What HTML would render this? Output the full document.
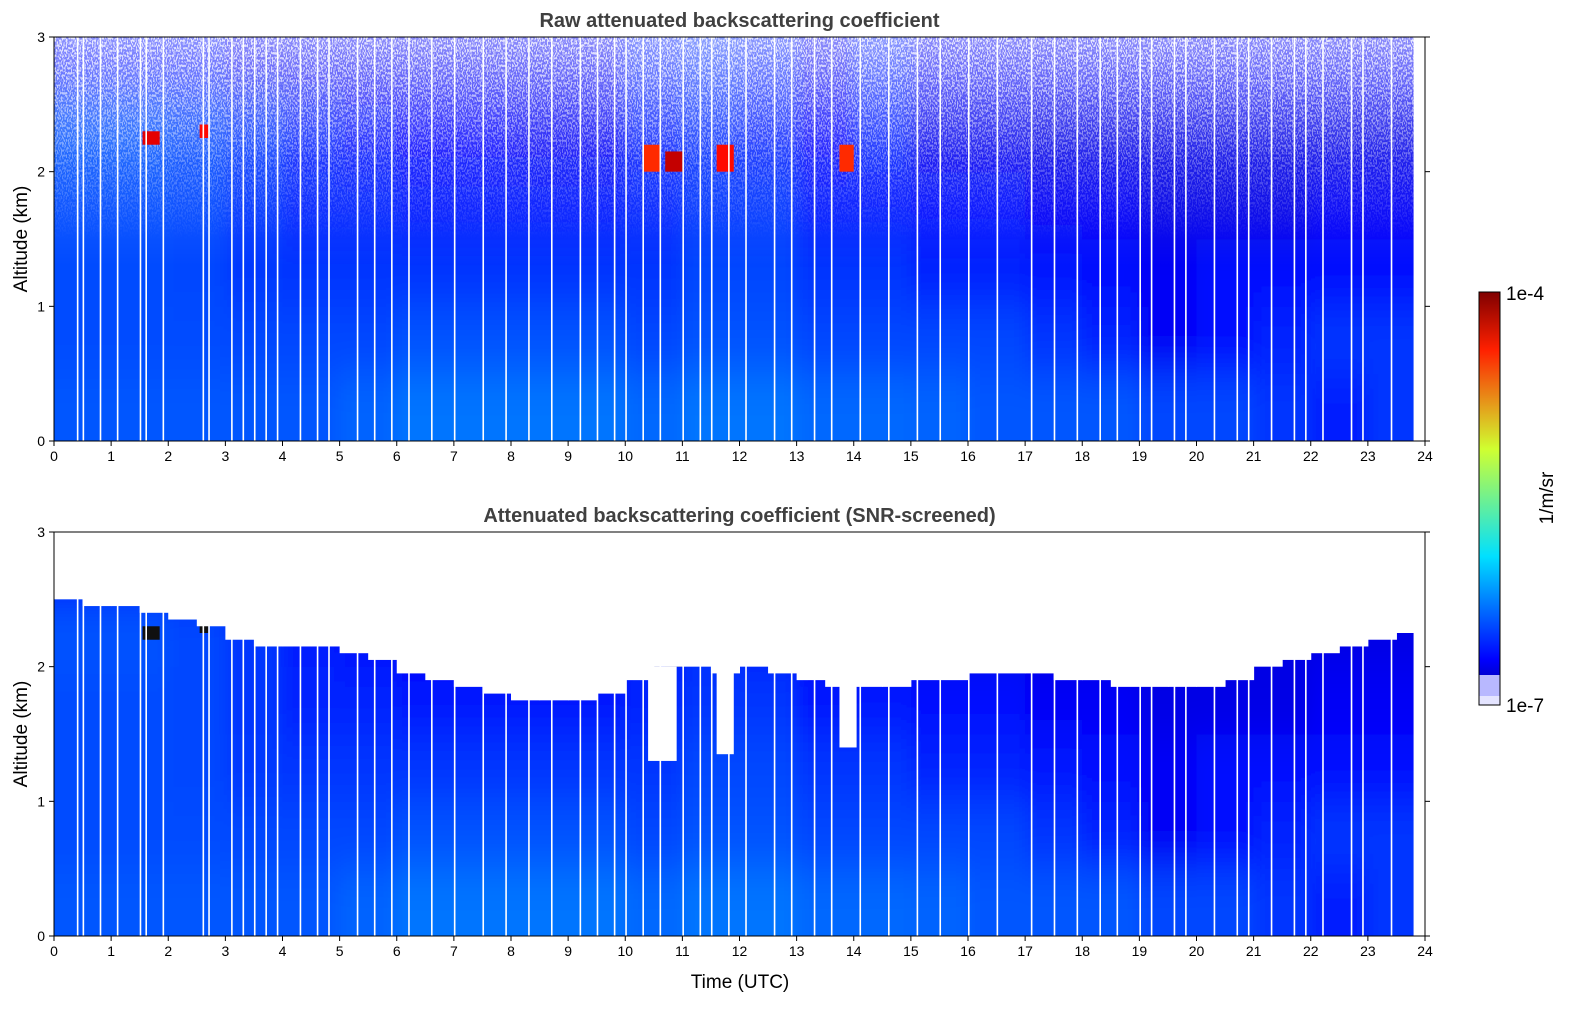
<!DOCTYPE html>
<html><head><meta charset="utf-8"><style>
html,body{margin:0;padding:0;background:#fff;}
svg text{font-family:"Liberation Sans","DejaVu Sans",sans-serif;}
</style></head><body>
<svg id="fig" width="1595" height="1020" xmlns="http://www.w3.org/2000/svg">
<defs>
<linearGradient id="jet" x1="0" y1="1" x2="0" y2="0">
<stop offset="0" stop-color="#000080"/><stop offset="0.11" stop-color="#0000ff"/>
<stop offset="0.36" stop-color="#00e0ff"/><stop offset="0.62" stop-color="#d0ff30"/>
<stop offset="0.86" stop-color="#ff2000"/><stop offset="1" stop-color="#800000"/>
</linearGradient>
<linearGradient id="haze" x1="0" y1="1" x2="0" y2="0">
<stop offset="0" stop-color="#fff" stop-opacity="0"/>
<stop offset="0.45" stop-color="#fff" stop-opacity="0.12"/>
<stop offset="1" stop-color="#fff" stop-opacity="0.55"/>
</linearGradient>
<filter id="speck" x="0" y="0" width="100%" height="100%">
<feTurbulence type="fractalNoise" baseFrequency="0.8 0.4" numOctaves="1" seed="3"/>
<feColorMatrix type="matrix" values="0 0 0 0 1  0 0 0 0 1  0 0 0 0 1  0 0 0 -12 6.2"/>
<feComposite in2="SourceGraphic" operator="in"/>
</filter>
<filter id="smooth" x="-20%" y="-40%" width="140%" height="180%">
<feGaussianBlur stdDeviation="8 22"/>
</filter>
<linearGradient id="speckmask" x1="0" y1="1" x2="0" y2="0">
<stop offset="0" stop-color="#fff" stop-opacity="0"/>
<stop offset="1" stop-color="#fff" stop-opacity="0.8"/>
</linearGradient>
</defs>
</svg>
<script>
// ---- data ----
const hours = [0,1,2,3,4,5,6,7,8,9,10,11,12,13,14,15,16,17,18,19,20,21,22,23];
const altBands = [0,0.5,1,1.5,2,2.5]; // band bottoms (km), 0.5 km thick
const band0 = [-6.37,-6.37,-6.37,-6.37,-6.37,-6.33,-6.28,-6.28,-6.28,-6.28,-6.32,-6.28,-6.28,-6.32,-6.32,-6.33,-6.37,-6.37,-6.37,-6.42,-6.42,-6.47,-6.55,-6.47];
const band1 = [-6.4,-6.4,-6.4,-6.42,-6.42,-6.42,-6.38,-6.38,-6.38,-6.38,-6.42,-6.38,-6.38,-6.42,-6.42,-6.42,-6.42,-6.47,-6.52,-6.65,-6.58,-6.52,-6.47,-6.47];
const band2 = [-6.4,-6.4,-6.42,-6.46,-6.47,-6.47,-6.47,-6.47,-6.47,-6.47,-6.47,-6.42,-6.42,-6.47,-6.47,-6.52,-6.52,-6.57,-6.6,-6.65,-6.6,-6.6,-6.6,-6.6];
const band3 = [-6.4,-6.4,-6.42,-6.47,-6.52,-6.52,-6.56,-6.56,-6.56,-6.56,-6.52,-6.47,-6.47,-6.56,-6.56,-6.6,-6.6,-6.65,-6.65,-6.7,-6.7,-6.7,-6.65,-6.65];
const band4 = [-6.38,-6.38,-6.42,-6.47,-6.55,-6.6,-6.62,-6.62,-6.65,-6.65,-6.55,-6.5,-6.55,-6.62,-6.55,-6.68,-6.68,-6.7,-6.7,-6.7,-6.7,-6.7,-6.7,-6.7];
const band5 = [-6.6,-6.6,-6.6,-6.65,-6.65,-6.65,-6.65,-6.65,-6.65,-6.65,-6.55,-6.5,-6.55,-6.65,-6.55,-6.65,-6.65,-6.65,-6.65,-6.65,-6.65,-6.65,-6.65,-6.65];
const bands = [band0,band1,band2,band3,band4,band5];
const topTimes = [0,0.5,1,1.5,2,2.5,3,3.5,4,4.5,5,5.5,6,6.5,7,7.5,8,8.5,9,9.5,10,10.5,11,11.5,12,12.5,13,13.5,14,14.5,15,15.5,16,16.5,17,17.5,18,18.5,19,19.5,20,20.5,21,21.5,22,22.5,23,23.5];
const topHeight = [2.5,2.45,2.45,2.4,2.35,2.3,2.2,2.15,2.15,2.15,2.1,2.05,1.95,1.9,1.85,1.8,1.75,1.75,1.75,1.8,1.9,2.0,2.0,1.95,2.0,1.95,1.9,1.85,1.85,1.85,1.9,1.9,1.95,1.95,1.95,1.9,1.9,1.85,1.85,1.85,1.85,1.9,2.0,2.05,2.1,2.15,2.2,2.25];
const holeT0 = [10.4,11.6,13.75];
const holeT1 = [10.9,11.9,14.05];
const holeBot = [1.3,1.35,1.4];
const cloudT0 = [1.55,2.55,10.3,10.7,11.6,13.75];
const cloudT1 = [1.85,2.7,10.6,11.0,11.9,14.0];
const cloudA0 = [2.2,2.25,2.0,2.0,2.0,2.0];
const cloudA1 = [2.3,2.35,2.2,2.15,2.2,2.2];
const cloudV = [-4.3,-4.4,-4.5,-4.2,-4.4,-4.5];
const gaps = [0.4,0.5,0.8,1.1,1.5,1.6,1.9,2.6,2.7,3.1,3.3,3.5,3.7,3.9,4.3,4.6,4.8,5.3,5.6,5.9,6.2,6.6,7.0,7.5,7.9,8.3,8.7,9.2,9.5,9.8,10.0,10.3,10.6,11.0,11.3,11.5,11.8,12.1,12.6,12.9,13.3,13.6,14.1,14.6,15.1,15.5,16.0,16.5,17.1,17.5,17.9,18.3,18.6,19.0,19.2,19.6,19.8,20.3,20.7,20.9,21.3,21.7,21.9,22.2,22.7,22.9,23.4];
const xTicks = [0,1,2,3,4,5,6,7,8,9,10,11,12,13,14,15,16,17,18,19,20,21,22,23,24];
const yTicks = [0,1,2,3];
const dataEnd = 23.8;

const NS="http://www.w3.org/2000/svg";
const svg=document.getElementById('fig');
function mk(tag,attrs,parent){const e=document.createElementNS(NS,tag);for(const k in attrs)e.setAttribute(k,attrs[k]);(parent||svg).appendChild(e);return e;}
function jet(v){
  let t=Math.max(0,Math.min(1,(v+7)/3));
  const r=Math.max(0,Math.min(1,1.5-Math.abs(4*t-3)));
  const g=Math.max(0,Math.min(1,1.5-Math.abs(4*t-2)));
  const b=Math.max(0,Math.min(1,1.5-Math.abs(4*t-1)));
  return `rgb(${Math.round(r*255)},${Math.round(g*255)},${Math.round(b*255)})`;
}
const X0=54,X1=1425,PAD=80;
function panel(name,top,title,screened){
  const Y1=top+404;
  const xs=h=>X0+h*(X1-X0)/24;
  const ys=a=>Y1-a*(Y1-top)/3;
  const g=mk('g',{});
  
  
  const clip=mk('clipPath',{id:'c'+name},g);mk('rect',{x:X0,y:top,width:X1-X0,height:Y1-top},clip);
  const hm=mk('g',{'clip-path':`url(#c${name})`},g);
  
  
  const cells=mk('g',{filter:'url(#smooth)'},hm);
  const nb=bands.length, nh=hours.length;
  bands.forEach((row,bi)=>{
    row.forEach((v,hi)=>{
      let x=xs(hours[hi]), w=xs(1)-xs(0)+0.5;
      let y=ys(altBands[bi]+0.5), h=ys(0)-ys(0.5)+0.5;
      if(hi===0){x-=PAD;w+=PAD;}
      if(hi===nh-1){w+=PAD;}
      if(bi===0){h+=PAD;}
      if(bi===nb-1){y-=PAD;h+=PAD;}
      const c=mk('rect',{x:x,y:y,width:w,height:h,fill:jet(v)},cells);
      
      
    });
  });
  if(!screened){
    mk('rect',{x:X0,y:ys(3),width:X1-X0,height:ys(1.3)-ys(3),fill:'url(#haze)'},hm);
    mk('rect',{x:X0,y:ys(3),width:X1-X0,height:ys(1.5)-ys(3),fill:'url(#speckmask)',filter:'url(#speck)'},hm);
  }
  cloudT0.forEach((t,i)=>{
    const c=mk('rect',{x:xs(t),y:ys(cloudA1[i]),width:xs(cloudT1[i])-xs(t),height:ys(cloudA0[i])-ys(cloudA1[i]),fill:screened?'#101010':jet(cloudV[i])},hm);
    
    
  });
  if(screened){
    topTimes.forEach((t,i)=>{
      const c=mk('rect',{x:xs(t),y:top,width:xs(0.5)-xs(0)+0.5,height:ys(topHeight[i])-top,fill:'#fff'},hm);
      
      
    });
    holeT0.forEach((t,i)=>{
      const c=mk('rect',{x:xs(t),y:ys(2.0),width:xs(holeT1[i])-xs(t),height:ys(holeBot[i])-ys(2.0),fill:'#fff'},hm);
      
      
    });
  }
  gaps.forEach(t=>{
    const l=mk('rect',{x:xs(t),y:top,width:1.6,height:Y1-top,fill:'#fff'},hm);
    
    
  });
  mk('rect',{x:xs(dataEnd),y:top,width:X1-xs(dataEnd),height:Y1-top,fill:'#fff'},hm);
  mk('rect',{x:X0,y:top,width:X1-X0,height:Y1-top,fill:'none',stroke:'#000','stroke-width':1},g);
  xTicks.forEach(t=>{
    mk('line',{x1:xs(t),x2:xs(t),y1:Y1,y2:Y1+5,stroke:'#000'},g);
    const tx=mk('text',{x:xs(t),y:Y1+20,'font-size':14,'text-anchor':'middle'},g);tx.textContent=t;
    
    
  });
  yTicks.forEach(t=>{
    mk('line',{x1:X0-5,x2:X0,y1:ys(t),y2:ys(t),stroke:'#000'},g);
    mk('line',{x1:X1,x2:X1+5,y1:ys(t),y2:ys(t),stroke:'#000'},g);
    const tx=mk('text',{x:X0-9,y:ys(t)+5,'font-size':14,'text-anchor':'end'},g);tx.textContent=t;
    
    
  });
  const tt=mk('text',{x:(X0+X1)/2,y:top-10,'font-size':20,'font-weight':'bold',fill:'#404040','text-anchor':'middle'},g);tt.textContent=title;
  
  
  const yl=mk('text',{x:0,y:0,'font-size':19,'text-anchor':'middle',transform:`translate(27,${(top+Y1)/2}) rotate(-90)`},g);yl.textContent='Altitude (km)';
  
  
}
panel('raw-panel',37,'Raw attenuated backscattering coefficient',false);
panel('screened-panel',532,'Attenuated backscattering coefficient (SNR-screened)',true);
const xl=mk('text',{x:740,y:988,'font-size':19,'text-anchor':'middle'});xl.textContent='Time (UTC)';


const cb=mk('g',{});


mk('rect',{x:1479,y:292,width:21,height:413,fill:'url(#jet)'},cb);
mk('rect',{x:1479,y:675,width:21,height:30,fill:'#b8b8ff'},cb);
mk('rect',{x:1479,y:696,width:21,height:9,fill:'#e4e4ff'},cb);
mk('rect',{x:1479,y:292,width:21,height:413,fill:'none',stroke:'#000'},cb);
const c1=mk('text',{x:1506,y:300,'font-size':19},cb);c1.textContent='1e-4';
const c2=mk('text',{x:1506,y:712,'font-size':19},cb);c2.textContent='1e-7';
const cu=mk('text',{x:0,y:0,'font-size':19,'text-anchor':'middle',transform:'translate(1553,498) rotate(-90)'},cb);cu.textContent='1/m/sr';


</script>
</body></html>
